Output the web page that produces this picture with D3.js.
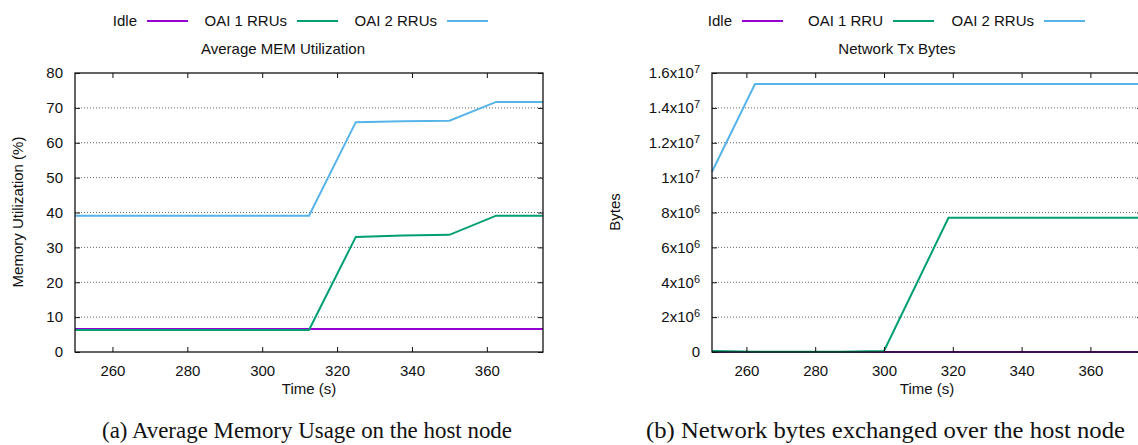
<!DOCTYPE html>
<html>
<head>
<meta charset="utf-8">
<script src="https://cdn.jsdelivr.net/npm/d3@7"></script>
<style>
  body { margin: 0; background: #fff; }
  svg { display: block; }
  text { font-family: "Liberation Sans", Arial, sans-serif; fill: #111; }
  .caption { font-family: "Liberation Serif", "Times New Roman", serif; }
</style>
</head>
<body>
<div id="root"></div>
<script>
// ---- data ----
const seriesNames = ["Idle", "OAI 1 RRUs", "OAI 2 RRUs"];
const seriesNamesNet = ["Idle", "OAI 1 RRU", "OAI 2 RRUs"];

const memTime = [250, 262.5, 275, 287.5, 300, 312.5, 325, 337.5, 350, 362.5, 375];
const memIdle = [6.6, 6.6, 6.6, 6.6, 6.6, 6.6, 6.6, 6.6, 6.6, 6.6, 6.6];
const memOai1 = [6.3, 6.3, 6.3, 6.3, 6.3, 6.3, 33.0, 33.4, 33.6, 39.1, 39.1];
const memOai2 = [39.1, 39.1, 39.1, 39.1, 39.1, 39.1, 65.9, 66.2, 66.3, 71.7, 71.7];

const netTime = [250, 262.5, 275, 287.5, 300, 318.75, 337.5, 356.25, 375];
const netIdle = [0, 0, 0, 0, 0, 0, 0, 0, 0];
const netOai1 = [6e4, 2e4, 1e4, 2e4, 6e4, 7.7e6, 7.7e6, 7.7e6, 7.7e6];
const netOai2 = [1.034e7, 1.537e7, 1.537e7, 1.537e7, 1.537e7, 1.537e7, 1.537e7, 1.537e7, 1.537e7];

const xTicks = [260, 280, 300, 320, 340, 360];
const memTicks = [0, 10, 20, 30, 40, 50, 60, 70, 80];
const netTicks = [0, 2e6, 4e6, 6e6, 8e6, 1e7, 1.2e7, 1.4e7, 1.6e7];

const colors = ["#9400d3", "#009e73", "#56b4e9"];

const width = 1138;
const height = 445;

const svg = d3.select("#root").append("svg")
  .attr("width", width)
  .attr("height", height);

function panel(opt) {
  const x = d3.scaleLinear([250, 375], [opt.left, opt.right]);
  const y = d3.scaleLinear([0, opt.ymax], [352, 73]);
  const g = svg.append("g");

  // horizontal dotted grid
  g.append("g").selectAll("line")
    .data(opt.yTicks.filter(t => t > 0 && t < opt.ymax))
    .join("line")
    .attr("x1", opt.left).attr("x2", opt.right)
    .attr("y1", d => y(d)).attr("y2", d => y(d))
    .attr("stroke", "#666")
    .attr("stroke-width", 1)
    .attr("stroke-dasharray", "1,2");

  // data lines
  const line = d3.line().x(d => x(d[0])).y(d => y(d[1]));
  opt.series.forEach((vals, i) => {
    g.append("path")
      .datum(opt.time.map((t, j) => [t, vals[j]]))
      .attr("fill", "none")
      .attr("stroke", colors[i])
      .attr("stroke-width", 2)
      .attr("d", line);
  });

  // axes, ticks inward on all four sides
  const bottom = g.append("g")
    .attr("transform", `translate(0,352)`)
    .call(d3.axisBottom(x).tickValues(xTicks).tickSizeInner(-5).tickSizeOuter(0).tickPadding(18));
  g.append("g")
    .attr("transform", `translate(0,73)`)
    .call(d3.axisTop(x).tickValues(xTicks).tickSizeInner(-5).tickSizeOuter(0).tickFormat(""));
  const leftAx = g.append("g")
    .attr("transform", `translate(${opt.left},0)`)
    .call(d3.axisLeft(y).tickValues(opt.yTicks).tickSizeInner(-5).tickSizeOuter(0).tickPadding(12));
  g.append("g")
    .attr("transform", `translate(${opt.right},0)`)
    .call(d3.axisRight(y).tickValues(opt.yTicks).tickSizeInner(-5).tickSizeOuter(0).tickFormat(""));

  g.selectAll(".domain").remove();
  g.selectAll(".tick line").attr("stroke", "#111").attr("stroke-width", 1);
  g.selectAll(".tick text").style("font-size", "15px").attr("fill", "#111")
    .style("font-family", "'Liberation Sans', Arial, sans-serif");
  bottom.selectAll(".tick text").attr("dy", "0.71em").attr("y", 13);

  if (opt.expLabels) {
    leftAx.selectAll(".tick text").each(function(d) {
      const t = d3.select(this).text("");
      if (d === 0) { t.text("0"); return; }
      const e = Math.floor(Math.log10(d));
      const m = +(d / Math.pow(10, e)).toFixed(1);
      t.append("tspan").text(`${m}x10`);
      t.append("tspan").attr("dy", "-0.45em").style("font-size", "11px").text(e);
    });
  }

  // frame
  g.append("rect")
    .attr("x", opt.left).attr("y", 73)
    .attr("width", opt.right - opt.left).attr("height", 352 - 73)
    .attr("fill", "none").attr("stroke", "#111").attr("stroke-width", 1.3);

  // legend (gnuplot style: text then sample)
  opt.names.forEach((name, i) => {
    const tx = opt.keyStart + i * opt.keyStep;
    svg.append("text")
      .attr("x", tx).attr("y", 26)
      .attr("text-anchor", "end")
      .style("font-size", "15px")
      .text(name);
    svg.append("line")
      .attr("x1", tx + 10).attr("x2", tx + 51)
      .attr("y1", 21).attr("y2", 21)
      .attr("stroke", colors[i]).attr("stroke-width", 2);
  });

  svg.append("text")
    .attr("x", opt.titleX).attr("y", 54)
    .attr("text-anchor", "middle")
    .style("font-size", "15px")
    .text(opt.title);

  svg.append("text")
    .attr("x", (opt.left + opt.right) / 2).attr("y", 394)
    .attr("text-anchor", "middle")
    .style("font-size", "15px")
    .text("Time (s)");

  svg.append("text")
    .attr("transform", `translate(${opt.ylabelX},212) rotate(-90)`)
    .attr("text-anchor", "middle")
    .style("font-size", "15px")
    .text(opt.ylabel);

  svg.append("text")
    .attr("class", "caption")
    .attr("x", opt.captionX).attr("y", 438)
    .attr("text-anchor", "middle")
    .attr("textLength", opt.captionW)
    .attr("lengthAdjust", "spacingAndGlyphs")
    .style("font-size", "22.5px")
    .text(opt.caption);
}

panel({
  left: 75, right: 543, ymax: 80, yTicks: memTicks,
  time: memTime, series: [memIdle, memOai1, memOai2],
  names: seriesNames, keyStart: 137, keyStep: 150,
  title: "Average MEM Utilization", titleX: 283,
  ylabel: "Memory Utilization (%)", ylabelX: 23,
  caption: "(a) Average Memory Usage on the host node", captionX: 307, captionW: 410,
});

panel({
  left: 712, right: 1142, ymax: 1.6e7, yTicks: netTicks, expLabels: true,
  time: netTime, series: [netIdle, netOai1, netOai2],
  names: seriesNamesNet, keyStart: 732, keyStep: 151,
  title: "Network Tx Bytes", titleX: 897,
  ylabel: "Bytes", ylabelX: 620,
  caption: "(b) Network bytes exchanged over the host node", captionX: 885.5, captionW: 479,
});
</script>
</body>
</html>
